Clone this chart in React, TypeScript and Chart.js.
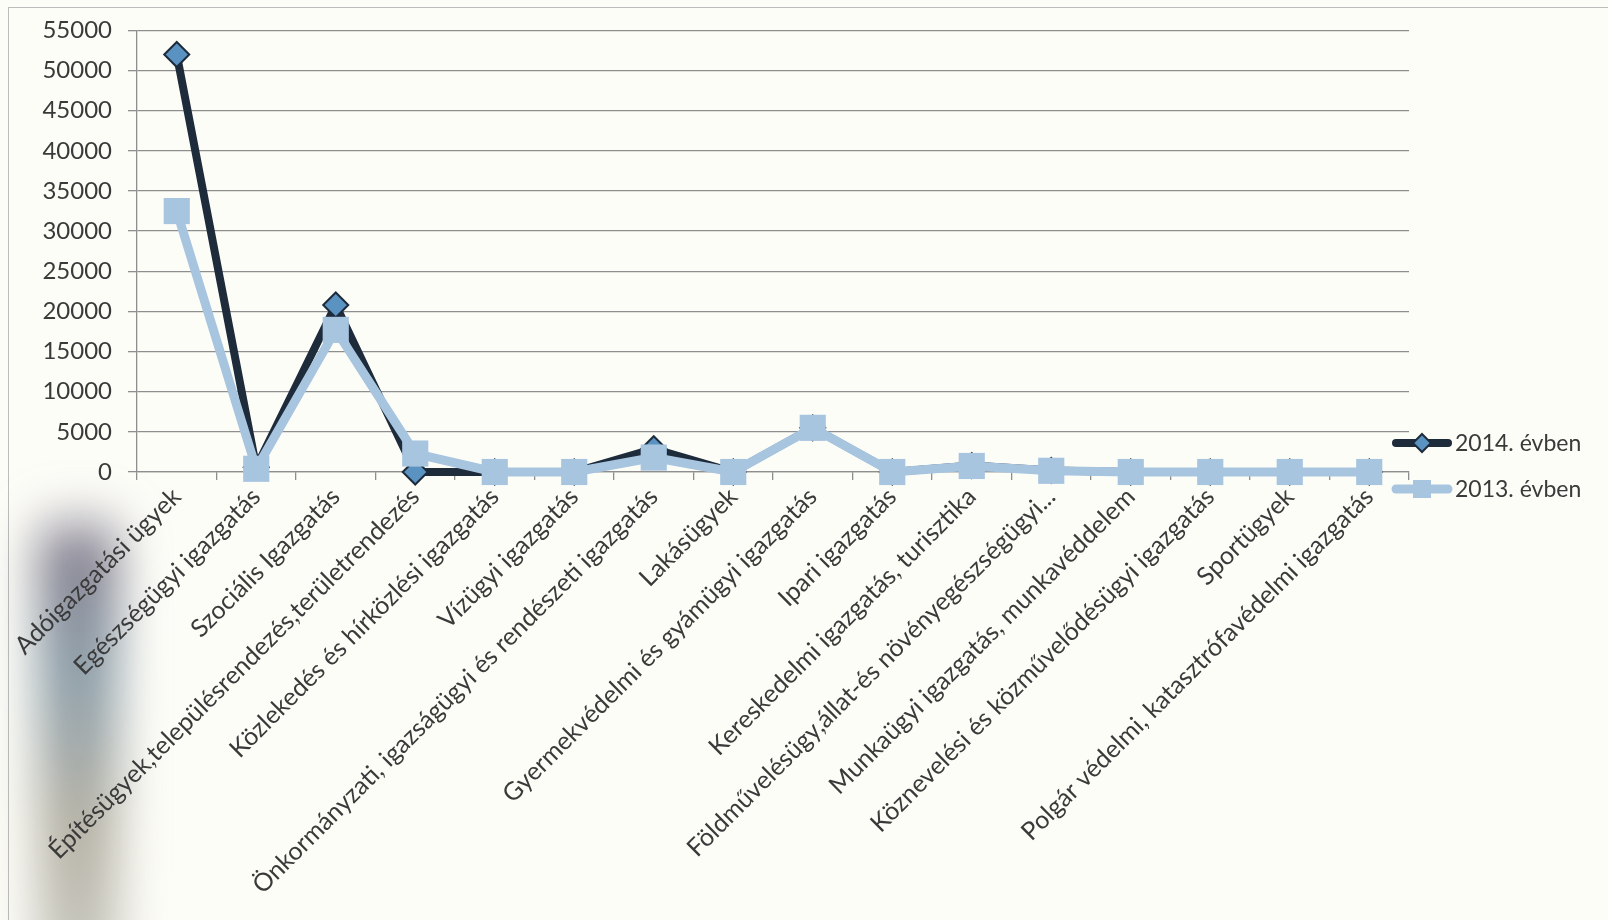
import React, { useEffect, useRef } from "react";
import { Chart, registerables } from "chart.js";

Chart.register(...registerables);

const categories = [
  "Adóigazgatási ügyek",
  "Egészségügyi igazgatás",
  "Szociális Igazgatás",
  "Építésügyek,településrendezés,területrendezés",
  "Közlekedés és hírközlési igazgatás",
  "Vízügyi igazgatás",
  "Önkormányzati, igazságügyi és rendészeti igazgatás",
  "Lakásügyek",
  "Gyermekvédelmi és gyámügyi igazgatás",
  "Ipari igazgatás",
  "Kereskedelmi igazgatás, turisztika",
  "Földművelésügy,állat-és növényegészségügyi...",
  "Munkaügyi igazgatás, munkavéddelem",
  "Köznevelési és közművelődésügyi igazgatás",
  "Sportügyek",
  "Polgár védelmi, katasztrófavédelmi igazgatás",
];

const values2014 = [52000, 600, 20800, 0, 0, 0, 2900, 0, 5500, 0, 800, 200, 0, 0, 0, 0];
const values2013 = [32500, 400, 17700, 2300, 0, 0, 1800, 0, 5500, 0, 750, 150, 0, 0, 0, 0];

const seriesNames = ["2014. évben", "2013. évben"];

const yMin = 0;
const yMax = 55000;
const yStep = 5000;

const FONT = "Lato, 'Open Sans', sans-serif";
const DARK = "#1e2b3b";
const DIAMOND_FILL = "#5a93c2";
const LIGHT = "#a8c5e0";
const TEXT = "#3a3a3a";
const GRID = "#8e8e8e";

const sideLegend = {
  id: "sideLegend",
  afterDraw(chart: any) {
    const { ctx, chartArea } = chart;
    const x0 = chartArea.right - 17;
    const lineLen = 60;
    const ys = [chartArea.bottom - 29, chartArea.bottom + 17];
    chart.data.datasets.forEach((ds: any, i: number) => {
      const y = ys[i];
      ctx.save();
      ctx.strokeStyle = ds.borderColor;
      ctx.lineWidth = ds.borderWidth;
      ctx.lineCap = "round";
      ctx.beginPath();
      ctx.moveTo(x0 + 4, y);
      ctx.lineTo(x0 + lineLen - 4, y);
      ctx.stroke();
      const cx = x0 + lineLen / 2;
      ctx.fillStyle = ds.pointBackgroundColor;
      ctx.strokeStyle = ds.pointBorderColor;
      ctx.lineWidth = ds.pointBorderWidth;
      ctx.beginPath();
      if (ds.pointStyle === "rectRot") {
        const r = 9;
        ctx.moveTo(cx, y - r);
        ctx.lineTo(cx + r, y);
        ctx.lineTo(cx, y + r);
        ctx.lineTo(cx - r, y);
        ctx.closePath();
      } else {
        const s = 9;
        ctx.rect(cx - s, y - s, 2 * s, 2 * s);
      }
      ctx.fill();
      if (ds.pointBorderWidth > 0) ctx.stroke();
      ctx.fillStyle = TEXT;
      ctx.font = `23px ${FONT}`;
      ctx.textAlign = "left";
      ctx.textBaseline = "middle";
      ctx.fillText(ds.label, x0 + lineLen + 3, y + 1);
      ctx.restore();
    });
  },
};

export default function App() {
  const canvasRef = useRef<HTMLCanvasElement | null>(null);

  useEffect(() => {
    const canvas = canvasRef.current;
    if (!canvas) return;
    const chart = new Chart(canvas, {
      type: "line",
      data: {
        labels: categories,
        datasets: [
          {
            label: seriesNames[0],
            data: values2014,
            borderColor: DARK,
            backgroundColor: DARK,
            borderWidth: 8,
            borderJoinStyle: "round",
            borderCapStyle: "round",
            pointStyle: "rectRot",
            pointRadius: 12.5,
            pointBackgroundColor: DIAMOND_FILL,
            pointBorderColor: DARK,
            pointBorderWidth: 2,
            tension: 0,
            clip: false,
            order: 1,
          },
          {
            label: seriesNames[1],
            data: values2013,
            borderColor: LIGHT,
            backgroundColor: LIGHT,
            borderWidth: 9,
            borderJoinStyle: "round",
            borderCapStyle: "round",
            pointStyle: "rect",
            pointRadius: 18.5,
            pointBackgroundColor: LIGHT,
            pointBorderColor: LIGHT,
            pointBorderWidth: 0,
            tension: 0,
            clip: false,
            order: 0,
          },
        ],
      } as any,
      options: {
        animation: false,
        responsive: false,
        devicePixelRatio: 1,
        layout: { padding: { left: 0, right: 199, top: 25, bottom: 0 } },
        plugins: {
          legend: { display: false },
          tooltip: { enabled: false },
        },
        scales: {
          x: {
            type: "category",
            offset: true,
            grid: {
              display: true,
              drawOnChartArea: false,
              drawTicks: true,
              tickLength: 8,
              offset: true,
              color: GRID,
              lineWidth: 1.3,
            },
            border: { display: true, color: GRID, width: 1.3 },
            ticks: {
              autoSkip: false,
              maxRotation: 45,
              minRotation: 45,
              padding: 2,
              color: TEXT,
              font: { family: FONT, size: 25 },
            },
            afterFit: (scale: any) => {
              scale.height = 448;
            },
          },
          y: {
            min: yMin,
            max: yMax,
            ticks: {
              stepSize: yStep,
              padding: 16,
              color: TEXT,
              font: { family: FONT, size: 24 },
              callback: (v: any) => String(v),
            },
            grid: {
              color: GRID,
              lineWidth: 1.3,
              drawTicks: true,
              tickLength: 9,
            },
            border: { display: true, color: GRID, width: 1.3 },
            afterFit: (scale: any) => {
              scale.width = 137;
            },
          },
        },
      } as any,
      plugins: [sideLegend],
    });
    return () => chart.destroy();
  }, []);

  return (
    <div
      style={{
        position: "fixed",
        left: 0,
        top: 0,
        width: 1608,
        height: 920,
        background: "#fdfdf8",
        overflow: "hidden",
      }}
    >
      <div
        style={{
          position: "absolute",
          left: 8,
          top: 7,
          right: 0,
          bottom: 0,
          borderTop: "1.5px solid #bdbdbd",
          borderLeft: "1.5px solid #bdbdbd",
        }}
      />
      <div
        style={{
          position: "absolute",
          left: 38,
          top: 505,
          width: 80,
          height: 470,
          background:
            "linear-gradient(to bottom, rgba(100,95,115,0) 0%, rgba(100,95,115,0.8) 9%, rgba(105,128,145,0.78) 35%, rgba(145,140,122,0.68) 68%, rgba(150,150,140,0.5) 100%)",
          filter: "blur(24px)",
        }}
      />
      <canvas
        ref={canvasRef}
        width={1608}
        height={920}
        style={{ position: "absolute", left: 0, top: 0, width: 1608, height: 920 }}
      />
    </div>
  );
}
